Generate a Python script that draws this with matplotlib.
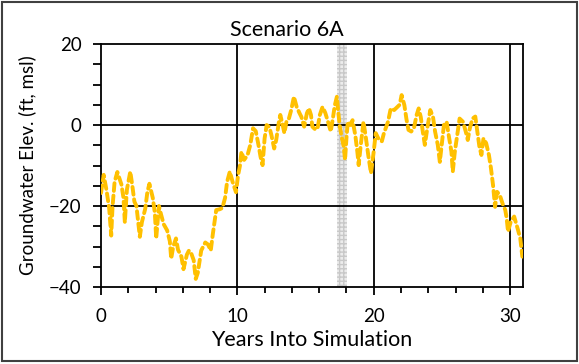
import matplotlib
matplotlib.use("Agg")
import matplotlib.pyplot as plt
from matplotlib.patches import Rectangle
from matplotlib.ticker import MultipleLocator

plt.rcParams['font.family'] = ['Lato', 'DejaVu Sans']

# values
years = [0.0, 0.2, 0.4, 0.6, 0.75, 0.85, 1.0, 1.2, 1.5, 1.65, 1.75, 1.9, 2.15, 2.3, 2.45,
         2.6, 2.85, 3.0, 3.25, 3.4, 3.55, 3.8, 3.95, 4.05, 4.25, 4.4, 4.6, 4.85, 5.05, 5.15,
         5.3, 5.5, 5.65, 5.9, 6.05, 6.3, 6.45, 6.6, 6.8, 6.95, 7.1, 7.35, 7.65, 7.85, 8.05,
         8.2, 8.35, 8.45, 8.7, 8.9, 9.1, 9.25, 9.45, 9.65, 9.9, 10.05, 10.2, 10.3, 10.5, 10.75,
         10.95, 11.15, 11.35, 11.55, 11.7, 11.85, 12.0, 12.15, 12.35, 12.5, 12.7, 12.85, 13.05,
         13.15, 13.3, 13.45, 13.6, 13.75, 13.95, 14.15, 14.35, 14.55, 14.7, 14.9, 15.1, 15.25,
         15.4, 15.5, 15.75, 15.9, 16.05, 16.25, 16.45, 16.65, 16.85, 17.0, 17.15, 17.3, 17.4,
         17.5, 17.65, 17.8, 17.9, 18.0, 18.1, 18.3, 18.45, 18.65, 18.8, 18.9, 19.05, 19.25,
         19.4, 19.6, 19.8, 20.0, 20.15, 20.4, 20.6, 20.75, 21.05, 21.25, 21.5, 21.75, 21.9,
         22.05, 22.25, 22.4, 22.55, 22.75, 22.95, 23.15, 23.3, 23.45, 23.6, 23.75, 23.95,
         24.15, 24.35, 24.5, 24.7, 24.85, 25.0, 25.15, 25.35, 25.5, 25.7, 25.8, 25.95, 26.15,
         26.3, 26.55, 26.75, 26.9, 27.05, 27.25, 27.45, 27.6, 27.75, 27.9, 28.05, 28.25, 28.45,
         28.6, 28.75, 28.9, 29.05, 29.25, 29.45, 29.65, 29.75, 29.85, 30.05, 30.3, 30.55,
         30.75, 30.9]
elev = [-16.8, -12.3, -16, -20.5, -27.3, -20, -14, -11.6, -14.7, -18, -24, -16, -11.5, -15, -18.9,
        -20, -27.6, -24, -20.6, -16.6, -14.5, -18, -21.7, -28, -20, -22, -24.5, -26, -28.7, -33,
        -30, -28, -30.8, -32.5, -35.6, -32, -31, -31.5, -33.4, -38, -36.5, -31, -29, -29.5, -31,
        -27, -23.5, -21, -20.8, -20.5, -18, -14, -11.5, -14, -16.6, -12.5, -9.9, -6.6, -8.6, -7.4,
        -4.9, -0.8, -1.5, -4.9, -7.8, -9.9, -3.3, 0, -0.5, -2.5, -5.8, -3.7, 0.8,
        2.5, 0.4, -2, 0.8, 1.2, 3.7, 7.0, 4.5, 3, 2, -0.4, 2.9, 4.1,
        2.5, -0.4, -1.2, -0.5, 2.5, 4.5, 3, 0.8, -1.6, 1.5, 4.9, 7.0, 3.3,
        0, -2.9, -5.3, -8.6, -3.3, 0.8, 0, 1.2, -2.5, -6.6, -9.9, -5, 0.8,
        -2.5, -7.4, -11.9, -6.6, -2, -3.7, -4, -2, 0.8, 4.1, 3.7, 4.5, 5,
        7.4, 4.9, 1.5, -1.2, -1.6, -0.8, 2.5, 4.1, 2, -1.6, -4.9, -0.4,
        3.7, 2, -1.6, -4.9, -9.1, -4.5, 0, 0.8, -2.5, -6.6, -11.5, -6.6, -2,
        1.6, 0.8, -1.6, -3.7, -0.8, 1.6, 2.1, -1.6, -5.3, -7.4, -3.3, -4.5, -7.4,
        -10.7, -14.8, -20.2, -16.5, -17.3, -19.4, -21, -23, -26.3, -23.9, -22.6, -25.5,
        -28, -32.5]
band_start, band_end = 17.3, 18.05

fig = plt.figure(figsize=(5.79, 3.64), dpi=100)
ax = fig.add_axes([0.1744, 0.2115, 0.7289, 0.6675])

ax.axvspan(band_start, band_end, facecolor='#ececec', edgecolor='#c8c8c8',
           hatch='++++', linewidth=0, zorder=1)

for xv in (10, 20, 30):
    ax.axvline(xv, color='black', linewidth=1.3, zorder=2)
for yv in (-20, 0):
    ax.axhline(yv, color='black', linewidth=1.3, zorder=2)

ax.plot(years, elev, color='#FFC000', linewidth=2.8, linestyle=(0, (2.0, 1.2)),
        dash_capstyle='round', zorder=3)

ax.set_xlim(0, 30.95)
ax.set_ylim(-40, 20)
ax.xaxis.set_major_locator(MultipleLocator(10))
ax.xaxis.set_minor_locator(MultipleLocator(2))
ax.yaxis.set_major_locator(MultipleLocator(20))
ax.yaxis.set_minor_locator(MultipleLocator(5))
for s in ax.spines.values():
    s.set_linewidth(1.3)
ax.tick_params(axis='x', which='major', direction='out', length=6, width=1.3, pad=9, labelsize=13.5)
ax.tick_params(axis='x', which='minor', direction='out', length=4, width=1.3)
ax.tick_params(axis='y', which='major', direction='out', length=6, width=1.3, pad=8, labelsize=13.5)
ax.tick_params(axis='y', which='minor', direction='out', length=6, width=1.3)

fig.text(0.496, 0.901, "Scenario 6A", fontsize=15.5, ha='center', va='baseline')
ax.set_xlabel("Years Into Simulation", fontsize=15.5, labelpad=4)
ax.set_ylabel("Groundwater Elev. (ft, msl)", fontsize=13.5, labelpad=9)

fig.patches.append(Rectangle((0.003, 0.008), 0.993, 0.987, transform=fig.transFigure,
                             fill=False, edgecolor='#404040', linewidth=1.5))

fig.savefig("out.png", dpi=100)
